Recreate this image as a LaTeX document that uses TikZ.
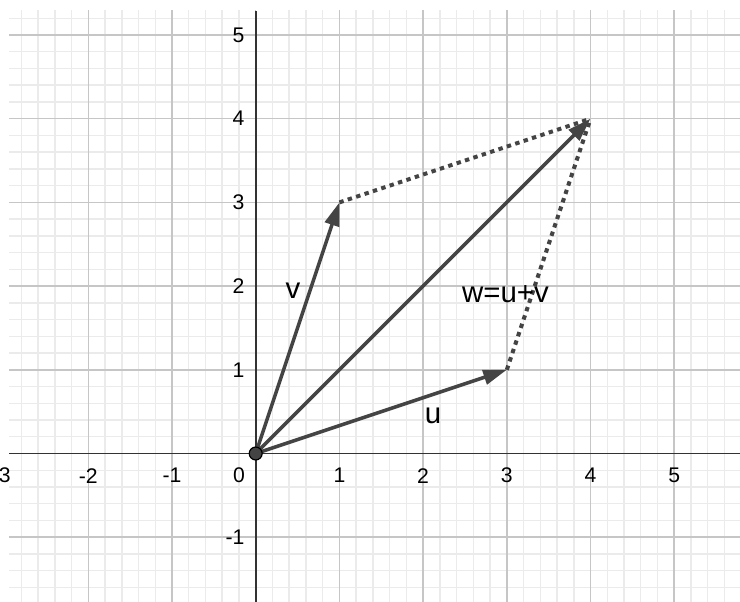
\documentclass[tikz,border=0pt]{standalone}
\usepackage{fontspec}
\setmainfont{Liberation Sans}
\usetikzlibrary{arrows.meta}
\definecolor{minorgrid}{HTML}{EBEBEB}
\definecolor{majorgrid}{HTML}{C6C6C6}
\definecolor{vec}{HTML}{444444}
\begin{document}
\begin{tikzpicture}[x=1cm,y=1cm,
  minorline/.style={draw=minorgrid,line width=0.5pt},
  majorline/.style={draw=majorgrid,line width=0.5pt},
  axisline/.style={draw=black!80,line width=0.55pt},
  vector/.style={draw=vec,line width=1.2pt,-{Triangle[length=8pt,width=5pt]}},
  dotline/.style={draw=vec,line width=1.35pt,dash pattern=on 1.5pt off 1.5pt},
  ticklabel/.style={font=\fontsize{7.2}{8}\selectfont,inner sep=0pt,text=black},
  veclabel/.style={font=\fontsize{10}{12}\selectfont,inner sep=0pt,text=black}]
\useasboundingbox (-3.055,-1.774) rectangle (5.786,5.418);
\fill[white] (-3.055,-1.774) rectangle (5.786,5.418);
\begin{scope}
  \clip (-2.947,-1.774) rectangle (5.786,5.287);
  \draw[minorline,step=0.2] (-3.2,-2) grid (6,5.6);
  \draw[majorline,step=1] (-3.2,-2) grid (6,5.6);
\end{scope}
\draw[axisline] (-2.947,0) -- (5.786,0);
\draw[axisline] (0,-1.774) -- (0,5.287);
% tick labels
\node[ticklabel] (x-3) at (-3.04,-0.265) {-3};
\foreach \k in {-2,-1,1,2,3,4,5}
  \node[ticklabel] (x\k) at (\k,-0.265) {\k};
\foreach \k in {-1,1,2,3,4,5}
  \node[ticklabel,anchor=east] (y\k) at (-0.128,\k) {\k};
\node[ticklabel] (zero) at (-0.2,-0.257) {0};
% points
\coordinate (O) at (0,0);
\coordinate (U) at (3,1);
\coordinate (V) at (1,3);
\coordinate (W) at (4,4);
% parallelogram sides
\draw[dotline] (V) -- (W);
\draw[dotline] (U) -- (W);
% vectors
\draw[vector] (O) -- (U);
\draw[vector] (O) -- (V);
\draw[vector] (O) -- (W);
\node[circle,fill=vec,draw=black,line width=0.4pt,minimum size=4.4pt,inner sep=0pt] (Odot) at (O) {};
% labels
\node[veclabel] (lv) at (0.446,1.94) {v};
\node[veclabel] (lu) at (2.12,0.454) {u};
\node[veclabel] (lw) at (2.985,1.90) {w=u+v};
\end{tikzpicture}
\end{document}
